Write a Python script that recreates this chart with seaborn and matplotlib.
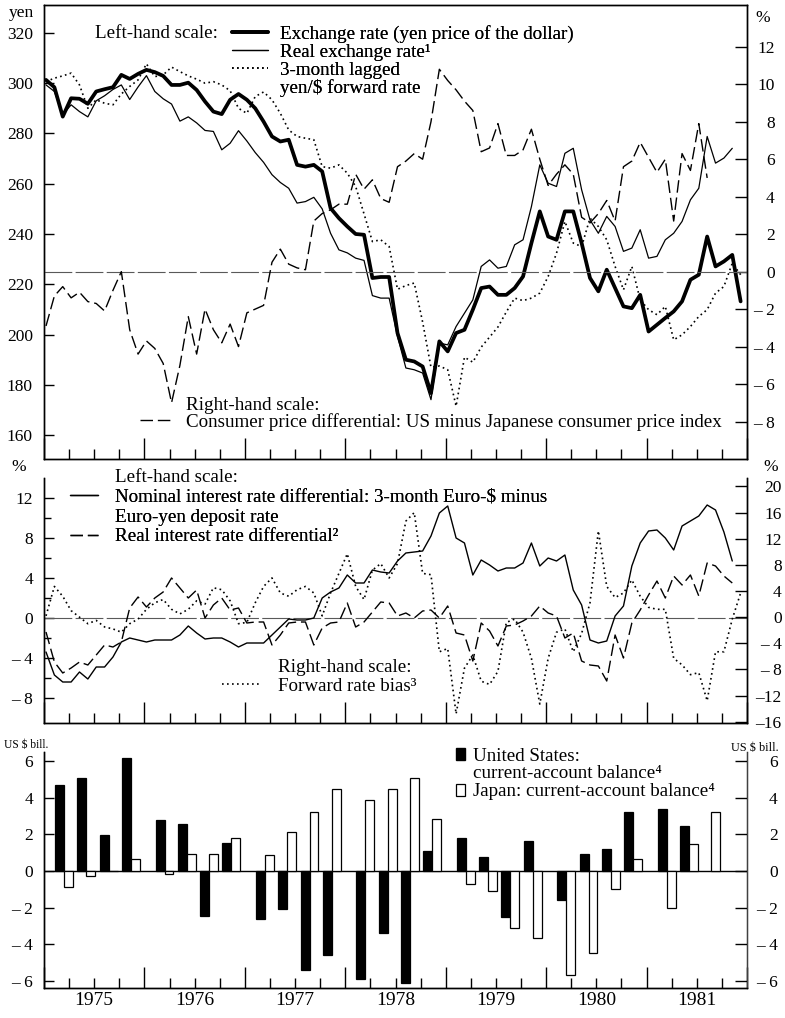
import numpy as np
import pandas as pd
import matplotlib
matplotlib.use("Agg")
import matplotlib.pyplot as plt
from matplotlib.ticker import FixedLocator, FuncFormatter, NullFormatter
from matplotlib.lines import Line2D
from matplotlib.patches import Patch
import seaborn as sns

# ---------------- data (monthly from Jan 1975) ----------------
START_YEAR = 1975
exchange_rate = [301.3, 298.4, 286.7, 294.0, 293.8, 291.8, 296.7, 297.6, 298.4, 303.3,
                 301.7, 303.7, 305.3, 304.4, 302.9, 299.3, 299.3, 300.2, 297.3, 292.7,
                 288.7, 287.7, 293.4, 295.7, 293.4, 290.0, 284.7, 278.8, 276.8, 277.5,
                 267.5, 266.8, 267.5, 264.9, 250.3, 246.3, 243.0, 240.0, 239.7, 222.5,
                 222.9, 222.9, 200.6, 190.0, 189.3, 187.3, 176.7, 197.3, 193.3, 200.6,
                 201.9, 209.9, 218.5, 219.1, 215.8, 215.8, 218.5, 223.1, 236.4, 249.0,
                 239.0, 237.7, 249.0, 249.0, 236.4, 222.5, 217.2, 225.8, 218.5, 211.2,
                 210.5, 215.8, 201.2, 203.9, 206.6, 209.2, 213.2, 221.8, 223.8, 239.0,
                 227.1, 229.1, 231.7, 213.2]
real_exchange_rate = [299.3, 296.7, 287.4, 291.4, 288.7, 286.6, 293.0, 295.0, 297.5, 299.3,
                      293.5, 298.5, 303.0, 296.7, 293.8, 291.7, 284.9, 286.6, 284.2, 281.2,
                      280.8, 273.5, 276.1, 281.1, 277.0, 272.4, 268.5, 263.6, 260.5, 258.2,
                      252.3, 252.9, 254.6, 250.0, 240.3, 233.7, 232.5, 230.4, 229.5, 215.5,
                      214.5, 214.5, 199.3, 186.7, 186.0, 184.7, 174.1, 196.6, 195.9, 203.2,
                      208.5, 213.8, 227.1, 229.7, 226.4, 227.1, 235.7, 237.7, 250.9, 267.5,
                      260.2, 258.9, 272.1, 274.1, 257.6, 245.6, 240.3, 247.0, 243.0, 233.1,
                      234.4, 241.7, 230.4, 231.1, 237.7, 240.3, 245.0, 253.6, 258.2, 278.8,
                      268.2, 270.2, 274.1]
forward_rate_lagged = [300.6, 302.0, 302.9, 304.0, 299.3, 290.0, 293.4, 292.0, 291.4, 295.7,
                       298.7, 301.3, 307.7, 302.6, 303.3, 306.4, 304.6, 302.9, 301.6, 300.0,
                       300.6, 299.3, 297.0, 290.0, 288.0, 294.7, 296.5, 293.4, 288.0, 281.4,
                       278.8, 278.1, 277.5, 266.8, 266.2, 267.5, 264.2, 258.9, 248.0, 237.0,
                       237.7, 235.0, 218.0, 219.5, 220.5, 205.0, 187.0, 187.5, 186.0, 171.5,
                       191.0, 189.0, 195.0, 199.0, 203.0, 209.0, 214.5, 213.5, 214.5, 216.5,
                       223.1, 232.4, 245.0, 236.4, 235.0, 246.3, 243.0, 237.7, 227.1, 217.8,
                       227.1, 213.8, 209.9, 207.9, 211.2, 197.9, 199.9, 203.2, 207.2, 209.9,
                       216.5, 219.1, 228.4, 223.8]
cpi_differential = [-2.9, -1.3, -0.8, -1.4, -1.1, -1.6, -1.7, -2.1, -1.0, 0.0,
                    -3.1, -4.4, -3.7, -4.1, -4.9, -7.0, -5.0, -2.4, -4.4, -2.0,
                    -3.1, -3.8, -2.8, -4.0, -2.2, -2.0, -1.8, 0.5, 1.2, 0.4,
                    0.2, 0.1, 2.7, 3.1, 3.3, 3.6, 3.6, 5.2, 4.4, 4.9,
                    3.9, 3.7, 5.6, 5.9, 6.3, 6.0, 8.0, 10.8, 10.2, 9.7,
                    9.1, 8.6, 6.4, 6.6, 7.9, 6.2, 6.2, 6.5, 7.6, 6.0,
                    4.6, 5.2, 5.7, 5.2, 2.9, 2.6, 3.1, 3.8, 2.7, 5.6,
                    5.9, 6.9, 6.1, 5.3, 6.0, 2.7, 6.3, 5.4, 7.9, 5.0]
nominal_rate_diff = [-3.4, -5.7, -6.4, -6.4, -5.4, -6.1, -4.9, -4.9, -3.9, -2.4,
                     -2.0, -2.2, -2.4, -2.2, -2.2, -2.2, -1.7, -0.8, -1.5, -2.1,
                     -2.0, -2.0, -2.4, -2.9, -2.5, -2.5, -2.5, -1.7, -0.9, -0.1,
                     -0.2, -0.2, 0.0, 2.0, 2.6, 3.0, 4.3, 3.5, 3.5, 4.8,
                     4.6, 4.5, 5.7, 6.5, 6.6, 6.7, 8.2, 10.5, 11.2, 8.0,
                     7.5, 4.3, 5.8, 5.3, 4.7, 5.0, 5.0, 5.5, 7.5, 5.2,
                     6.0, 5.7, 6.3, 2.8, 1.3, -2.2, -2.5, -2.3, 0.2, 1.2,
                     5.2, 7.5, 8.7, 8.8, 8.0, 6.8, 9.2, 9.7, 10.2, 11.3,
                     10.8, 8.6, 5.7]
real_rate_diff = [-1.4, -4.4, -5.5, -5.0, -4.4, -4.7, -3.7, -2.7, -2.9, -2.4,
                  1.0, 2.1, 1.1, 2.0, 2.6, 4.0, 3.0, 2.0, 2.8, 0.0,
                  1.3, 2.0, 0.8, 1.0, -0.5, -0.4, -0.4, -2.7, -1.7, -0.5,
                  -0.4, -0.4, -2.7, -1.0, -0.5, -0.4, 1.5, -0.9, -0.4, 0.6,
                  1.6, 1.5, 0.2, 0.5, 0.0, 0.7, 0.8, 0.0, 1.2, -1.5,
                  -1.7, -4.3, -0.5, -1.3, -2.8, -0.8, -0.7, -0.3, 0.2, 1.2,
                  0.5, 0.2, -2.0, -1.5, -4.3, -4.7, -4.8, -6.3, -1.7, -4.0,
                  -0.5, 0.8, 2.3, 3.7, 2.0, 4.2, 3.3, 4.3, 2.2, 5.5,
                  5.2, 4.2, 3.5]
forward_rate_bias = [0.2, 4.7, 3.2, 1.0, 0.0, -1.0, -0.5, -1.5, -1.8, -2.3,
                     -1.0, -0.3, 1.2, 2.2, 2.7, 1.2, 0.5, 1.2, 2.5, 2.0,
                     4.5, 4.2, 2.5, -1.0, -0.8, 2.2, 4.7, 6.0, 3.7, 3.2,
                     4.2, 4.7, 3.7, 0.2, 3.7, 6.7, 9.7, 4.7, 2.7, 7.2,
                     8.2, 6.0, 8.2, 14.7, 16.0, 6.7, 6.5, -5.3, -4.8, -14.8,
                     -7.8, -5.8, -9.8, -10.3, -8.3, -0.8, -0.3, -2.3, -6.3, -13.3,
                     -6.3, -2.3, -1.8, -5.3, -2.5, 2.2, 13.2, 4.7, 3.0, 3.7,
                     5.7, 3.2, 1.5, 1.2, 1.2, -6.3, -7.3, -8.8, -8.5, -12.8,
                     -5.3, -5.3, -0.3, 3.7]

# quarterly current-account balances, 1975Q1 - 1981Q3 (US $ bill.)
quarter_years = [y for y in range(1975, 1982) for q in range(4)][:27]
quarter_nums = [q for y in range(1975, 1982) for q in range(1, 5)][:27]
us_current_account = [4.7, 5.1, 1.95, 6.15, 2.8, 2.55, -2.45, 1.5, -2.65, -2.1,
                      -5.4, -4.6, -5.9, -3.4, -6.1, 1.1, 1.8, 0.75, -2.5, 1.65,
                      -1.6, 0.95, 1.2, 3.2, 3.4, 2.45, np.nan]
japan_current_account = [-0.9, -0.3, 0.0, 0.65, -0.15, 0.95, 0.95, 1.8, 0.85, 2.1,
                         3.2, 4.5, 3.85, 4.5, 5.1, 2.85, -0.7, -1.1, -3.1, -3.65,
                         -5.7, -4.5, -1.0, 0.65, -2.0, 1.45, 3.2]
years = [1975, 1976, 1977, 1978, 1979, 1980, 1981]

# ---------------- style ----------------
sns.set_theme(style="ticks")
plt.rcParams["font.family"] = ["Liberation Serif", "DejaVu Serif"]
plt.rcParams["font.size"] = 12.5
plt.rcParams["axes.edgecolor"] = "black"
plt.rcParams["axes.linewidth"] = 1.0
plt.rcParams["xtick.color"] = "black"
plt.rcParams["ytick.color"] = "black"
plt.rcParams["text.color"] = "black"

W, H = 785, 1018
fig = plt.figure(figsize=(W / 100, H / 100), dpi=100)


def add_ax(l, t, r, b):
    return fig.add_axes([l / W, 1 - b / H, (r - l) / W, (b - t) / H])


def fpos(x, y):
    return (x / W, 1 - y / H)


def month_x(vals):
    return START_YEAR + 0.02 + np.arange(len(vals)) / 12.0


def dash_fmt(v, pos):
    v = int(round(v))
    if v < 0:
        return f"–{abs(v)}" if abs(v) >= 10 else f"– {abs(v)}"
    return f"{v}"


def year_fmt(v, pos):
    frac = v - np.floor(v)
    if abs(frac - 0.5) < 1e-6:
        return str(int(np.floor(v)))
    return ""


FS = 12.5    # tick labels
TFS = 13.7   # annotation / legend texts
XMIN, XMAX = 1975.0, 1982.0
year_ticks = list(range(1975, 1983))
quarter_ticks = [y + f for y in range(1975, 1982) for f in (0.25, 0.5, 0.75)]


def setup_x(ax, labels=False):
    ax.set_xlim(XMIN, XMAX)
    ax.xaxis.set_major_locator(FixedLocator(year_ticks))
    ax.xaxis.set_minor_locator(FixedLocator(quarter_ticks))
    ax.xaxis.set_major_formatter(NullFormatter())
    if labels:
        ax.xaxis.set_minor_formatter(FuncFormatter(year_fmt))
    else:
        ax.xaxis.set_minor_formatter(NullFormatter())
    ax.tick_params(axis="x", which="major", direction="in", length=15, width=1.0,
                   bottom=True, top=False)
    ax.tick_params(axis="x", which="minor", direction="in", length=7.5, width=1.0,
                   bottom=True, top=False, labelsize=14, pad=3)
    ax.set_xlabel("")


def style_left(ax, pad=7):
    ax.tick_params(axis="y", which="major", direction="in", length=7, width=1.0,
                   left=True, right=False, labelsize=FS, pad=pad)
    ax.tick_params(axis="y", which="minor", direction="in", length=5, width=1.0,
                   left=True, right=False)
    ax.yaxis.set_major_formatter(FuncFormatter(dash_fmt))
    ax.set_ylabel("")


def style_right(ax, pad):
    ax.tick_params(axis="y", which="major", direction="in", length=9, width=1.0,
                   right=True, left=False, labelsize=FS, pad=pad)
    ax.yaxis.set_major_formatter(FuncFormatter(dash_fmt))
    for lab in ax.get_yticklabels():
        lab.set_horizontalalignment("right")
    ax.set_ylabel("")


# ================= TOP PANEL =================
ax1 = add_ax(44, 5, 747, 459)
ax1r = ax1.twinx()

ax1r.axhline(0, color="0.35", lw=0.8, ls=(0, (25, 3)), zorder=1)
sns.lineplot(x=month_x(cpi_differential), y=cpi_differential, ax=ax1r, color="black",
             lw=1.0, ls=(0, (9, 3.5)), errorbar=None)
sns.lineplot(x=month_x(forward_rate_lagged), y=forward_rate_lagged, ax=ax1, color="black",
             lw=1.2, ls=(0, (1, 2.0)), errorbar=None)
sns.lineplot(x=month_x(real_exchange_rate), y=real_exchange_rate, ax=ax1, color="black",
             lw=0.9, errorbar=None)
sns.lineplot(x=month_x(exchange_rate), y=exchange_rate, ax=ax1, color="black",
             lw=2.7, errorbar=None)

ax1.set_ylim(150.5, 331.1)
ax1r.set_ylim(-10.0, 14.23)
ax1.yaxis.set_major_locator(FixedLocator(list(range(160, 321, 20))))
ax1r.yaxis.set_major_locator(FixedLocator(list(range(-8, 13, 2))))
setup_x(ax1)
style_left(ax1, pad=8)
style_right(ax1r, pad=20)
for a in (ax1, ax1r):
    for s in a.spines.values():
        s.set_visible(True)
        s.set_linewidth(1.0)

fig.text(*fpos(9, 13), "yen", fontsize=FS, va="center", ha="left")
fig.text(*fpos(763, 18), "%", fontsize=FS, va="center", ha="center")
fig.text(*fpos(95, 33), "Left-hand scale:", fontsize=TFS, va="center", ha="left")

h_top = [Line2D([], [], color="black", lw=2.7),
         Line2D([], [], color="black", lw=0.9),
         Line2D([], [], color="black", lw=1.2, ls=(0, (1, 2.0))),
         Line2D([], [], ls="none")]
l_top = ["Exchange rate (yen price of the dollar)", "Real exchange rate¹",
         "3-month lagged", "yen/\\$ forward rate"]
leg1 = ax1.legend(h_top, l_top, loc="center left", bbox_to_anchor=fpos(232, 61),
                  bbox_transform=fig.transFigure, frameon=False, fontsize=TFS,
                  handlelength=1.9, handletextpad=0.63, labelspacing=0.04,
                  borderpad=0, borderaxespad=0)
ax1.add_artist(leg1)

fig.text(*fpos(186, 405), "Right-hand scale:", fontsize=TFS, va="center", ha="left")
leg1b = ax1r.legend([Line2D([], [], color="black", lw=1.0, ls=(0, (9, 3.5)))],
                    ["Consumer price differential: US minus Japanese consumer price index"],
                    loc="center left", bbox_to_anchor=fpos(140, 422),
                    bbox_transform=fig.transFigure, frameon=False, fontsize=TFS,
                    handlelength=1.74, handletextpad=0.68, borderpad=0, borderaxespad=0)

# ================= MIDDLE PANEL =================
ax2 = add_ax(44, 478, 747, 723)
ax2r = ax2.twinx()

ax2.axhline(0, color="0.35", lw=0.8, ls=(0, (25, 3)), zorder=1)
sns.lineplot(x=month_x(forward_rate_bias), y=forward_rate_bias, ax=ax2r, color="black",
             lw=1.2, ls=(0, (1, 2.0)), errorbar=None)
sns.lineplot(x=month_x(real_rate_diff), y=real_rate_diff, ax=ax2, color="black",
             lw=1.0, ls=(0, (9, 3.5)), errorbar=None)
sns.lineplot(x=month_x(nominal_rate_diff), y=nominal_rate_diff, ax=ax2, color="black",
             lw=1.0, errorbar=None)

ax2.set_ylim(-10.5, 14.0)
ax2r.set_ylim(-16.2, 21.3)
ax2.yaxis.set_major_locator(FixedLocator([-8, -4, 0, 4, 8, 12]))
ax2.yaxis.set_minor_locator(FixedLocator([-6, -2, 2, 6, 10]))
ax2r.yaxis.set_major_locator(FixedLocator(list(range(-16, 21, 4))))
setup_x(ax2)
style_left(ax2, pad=8)
style_right(ax2r, pad=25)
for a in (ax2, ax2r):
    a.spines["top"].set_visible(False)

fig.text(*fpos(19, 467), "%", fontsize=FS, va="center", ha="center")
fig.text(*fpos(771, 467), "%", fontsize=FS, va="center", ha="center")
fig.text(*fpos(115, 478), "Left-hand scale:", fontsize=TFS, va="center", ha="left")

h_mid = [Line2D([], [], color="black", lw=1.0),
         Line2D([], [], ls="none"),
         Line2D([], [], color="black", lw=1.0, ls=(0, (9, 3.5)))]
l_mid = ["Nominal interest rate differential: 3-month Euro-\\$ minus",
         "Euro-yen deposit rate", "Real interest rate differential²"]
leg2 = ax2.legend(h_mid, l_mid, loc="center left", bbox_to_anchor=fpos(70, 517),
                  bbox_transform=fig.transFigure, frameon=False, fontsize=TFS,
                  handlelength=1.47, handletextpad=0.9, labelspacing=0.13,
                  borderpad=0, borderaxespad=0)
ax2.add_artist(leg2)

fig.text(*fpos(278, 667), "Right-hand scale:", fontsize=TFS, va="center", ha="left")
leg2b = ax2r.legend([Line2D([], [], color="black", lw=1.2, ls=(0, (1, 2.0)))],
                    ["Forward rate bias³"], loc="center left",
                    bbox_to_anchor=fpos(222, 686), bbox_transform=fig.transFigure,
                    frameon=False, fontsize=TFS, handlelength=2.0, handletextpad=0.95,
                    borderpad=0, borderaxespad=0)

# ================= BOTTOM PANEL =================
ax3 = add_ax(44, 752, 747, 988)
ax3r = ax3.twinx()

qpos = [y + 0.2 + 0.222 * (q - 1) for y, q in zip(quarter_years, quarter_nums)]
df_bar = pd.DataFrame({
    "t": qpos + qpos,
    "value": us_current_account + japan_current_account,
    "country": ["United States"] * len(qpos) + ["Japan"] * len(qpos),
}).dropna()
sns.barplot(data=df_bar, x="t", y="value", hue="country",
            hue_order=["United States", "Japan"],
            palette={"United States": "black", "Japan": "white"},
            native_scale=True, dodge=True, width=0.8, edgecolor="black",
            linewidth=0.9, errorbar=None, legend=False, ax=ax3)
ax3.axhline(0, color="black", lw=1.0, zorder=0.5)

ax3.set_ylim(-6.4, 6.5)
ax3r.set_ylim(-6.4, 6.5)
ax3.yaxis.set_major_locator(FixedLocator(list(range(-6, 7, 2))))
ax3r.yaxis.set_major_locator(FixedLocator(list(range(-6, 7, 2))))
setup_x(ax3, labels=True)
style_left(ax3, pad=8)
style_right(ax3r, pad=22)
for a in (ax3, ax3r):
    a.spines["top"].set_visible(False)
ax3r.spines["right"].set_linewidth(0.6)
ax3r.spines["right"].set_color("0.3")

fig.text(*fpos(4, 745), "US \\$ bill.", fontsize=8.3, va="center", ha="left")
fig.text(*fpos(731, 748), "US \\$ bill.", fontsize=8.8, va="center", ha="left")

h_bot = [Patch(facecolor="black", edgecolor="black"),
         Line2D([], [], ls="none"),
         Patch(facecolor="white", edgecolor="black", linewidth=0.9)]
l_bot = ["United States:", "current-account balance⁴", "Japan: current-account balance⁴"]
ax3.legend(h_bot, l_bot, loc="center left", bbox_to_anchor=fpos(456, 774),
           bbox_transform=fig.transFigure, frameon=False, fontsize=TFS,
           handlelength=0.47, handleheight=0.58, handletextpad=0.42, labelspacing=0.05,
           borderpad=0, borderaxespad=0)

for a in (ax1, ax1r, ax2, ax2r, ax3, ax3r):
    a.set_xlabel("")
    a.set_ylabel("")
    a.set_xlim(XMIN, XMAX)

fig.savefig("out.png", dpi=100)
